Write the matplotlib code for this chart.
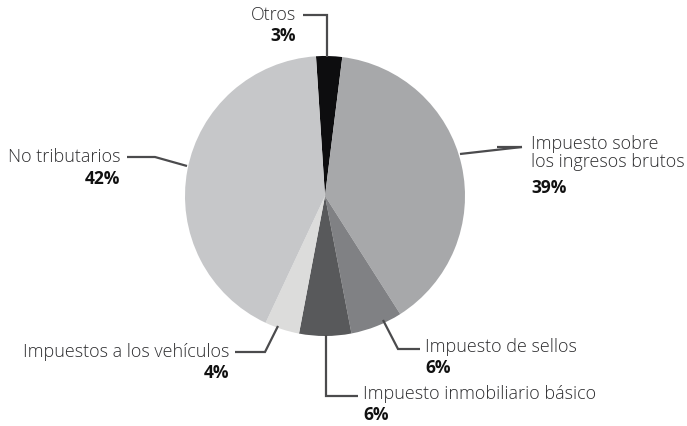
import matplotlib.pyplot as plt

# shares (%) clockwise from top
labels = ['Otros', 'Impuesto sobre\nlos ingresos brutos', 'Impuesto de sellos',
          'Impuesto inmobiliario básico', 'Impuestos a los vehículos', 'No tributarios']
shares = [3, 39, 6, 6, 4, 42]
pct_labels = ['3%', '39%', '6%', '6%', '4%', '42%']
colors = ['#0d0d0f', '#a7a8aa', '#808184', '#58595b', '#dcdcdb', '#c6c7c9']

W, H = 687, 427
fig = plt.figure(figsize=(W / 100, H / 100), dpi=100)
ax = fig.add_axes([0, 0, 1, 1])

# y axis is flipped below, so counterclock=True draws clockwise on screen
ax.pie(shares, colors=colors, startangle=-93.7, counterclock=True,
       center=(325, 197), radius=140, wedgeprops={'linewidth': 0})
ax.set_xlim(0, W)
ax.set_ylim(H, 0)
ax.set_aspect('auto')
ax.axis('off')

lc = '#4b4b4d'
lw = 1.6
# leader lines (pixel positions)
leaders = [
    [(303, 16), (327, 16), (327, 58)],
    [(497, 148), (522, 148)],
    [(383, 321), (398, 350), (420, 350)],
    [(326, 336), (326, 397), (358, 397)],
    [(278, 327), (265, 353), (235, 353)],
    [(127, 158), (155, 158), (187, 167)],
]
for pts in leaders:
    xs, ys = zip(*pts)
    ax.plot(xs, ys, color=lc, lw=lw, solid_capstyle='butt', solid_joinstyle='miter')
ax.plot([522, 460], [148, 155], color=lc, lw=lw, solid_capstyle='butt')

# label anchors: (x, y_name, y_pct, ha)
anchors = [
    (296, 15, 36, 'right'),
    (531, 153, 188, 'left'),
    (425, 347, 368, 'left'),
    (363, 394, 415, 'left'),
    (229, 352, 373, 'right'),
    (120, 157, 179, 'right'),
]
fam = ['Open Sans', 'DejaVu Sans']
for name, pct, (x, yn, yp, ha) in zip(labels, pct_labels, anchors):
    ax.text(x, yn, name, ha=ha, va='center', fontsize=13, family=fam,
            weight='light', color='#2e2e30', linespacing=0.95)
    ax.text(x, yp, pct, ha=ha, va='center', fontsize=12.5, family=fam,
            weight='bold', color='#111111')

plt.savefig('out.png', dpi=100)
